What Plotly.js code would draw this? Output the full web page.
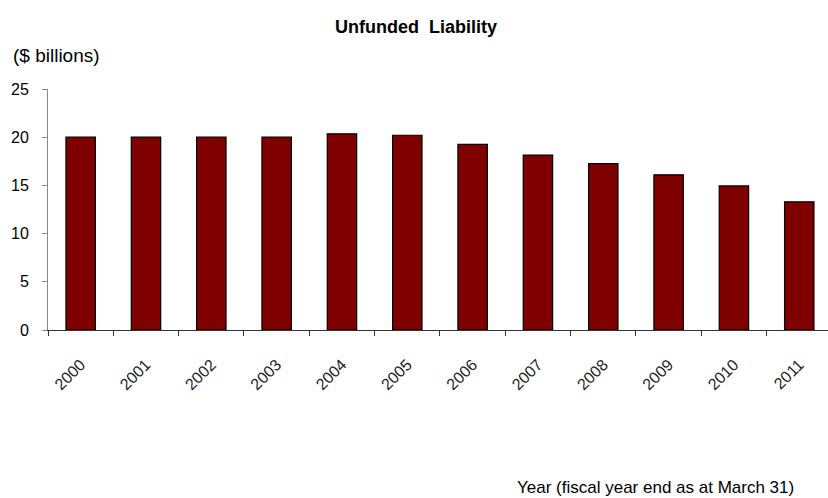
<!DOCTYPE html>
<html>
<head>
<meta charset="utf-8">
<script src="https://cdn.plot.ly/plotly-3.0.1.min.js"></script>
<style>html,body{margin:0;padding:0;background:#fff;}</style>
</head>
<body>
<div id="chart" style="width:828px;height:498px;"></div>
<script>
const years = ["2000","2001","2002","2003","2004","2005","2006","2007","2008","2009","2010","2011"];
const liability = [20.0, 20.0, 20.0, 20.0, 20.35, 20.2, 19.25, 18.15, 17.25, 16.1, 14.95, 13.3];
const yTicks = [0, 5, 10, 15, 20, 25];

const trace = {
  type: "bar",
  x: years,
  y: liability,
  width: 0.45,
  marker: {color: "#800000", line: {color: "#000000", width: 1.2}},
  hoverinfo: "x+y"
};

const layout = {
  width: 828,
  height: 498,
  margin: {l: 48, r: 0, t: 89, b: 168},
  paper_bgcolor: "#ffffff",
  plot_bgcolor: "#ffffff",
  showlegend: false,
  font: {family: "Liberation Sans, Arial, sans-serif", color: "#000", size: 14},
  title: {
    text: "<b>Unfunded  Liability</b>",
    font: {family: "Liberation Sans, Arial, sans-serif", size: 18, color: "#000"},
    xref: "container", x: 416/828, xanchor: "center",
    yref: "container", y: 1 - 27/498, yanchor: "middle"
  },
  xaxis: {
    type: "category",
    range: [-0.5, 11.44],
    tickangle: -45,
    tickson: "boundaries",
    ticks: "outside",
    ticklen: 5,
    tickcolor: "#333",
    ticklabelstandoff: 18,
    showline: true,
    linecolor: "#333",
    linewidth: 1,
    showgrid: false,
    zeroline: false,
    tickfont: {size: 16, color: "#222"},
    fixedrange: true
  },
  yaxis: {
    range: [0, 25],
    tickvals: yTicks,
    ticks: "outside",
    ticklen: 5,
    tickcolor: "#888",
    ticklabelstandoff: 10,
    showline: true,
    linecolor: "#888",
    linewidth: 1,
    showgrid: false,
    zeroline: false,
    tickfont: {size: 16, color: "#000"},
    fixedrange: true
  },
  annotations: [
    {
      text: "($ billions)",
      xref: "paper", yref: "paper",
      x: -48/780, y: 1 + (89 - 55)/241,
      xanchor: "left", yanchor: "middle",
      xshift: 11,
      showarrow: false,
      font: {size: 19, color: "#000"}
    },
    {
      text: "Year (fiscal year end as at March 31)",
      xref: "paper", yref: "paper",
      x: (796 - 48)/780, y: -(487 - 330)/241,
      xanchor: "right", yanchor: "middle",
      showarrow: false,
      font: {size: 17, color: "#000"}
    }
  ]
};

Plotly.newPlot("chart", [trace], layout, {displayModeBar: false, staticPlot: true});
</script>
</body>
</html>
